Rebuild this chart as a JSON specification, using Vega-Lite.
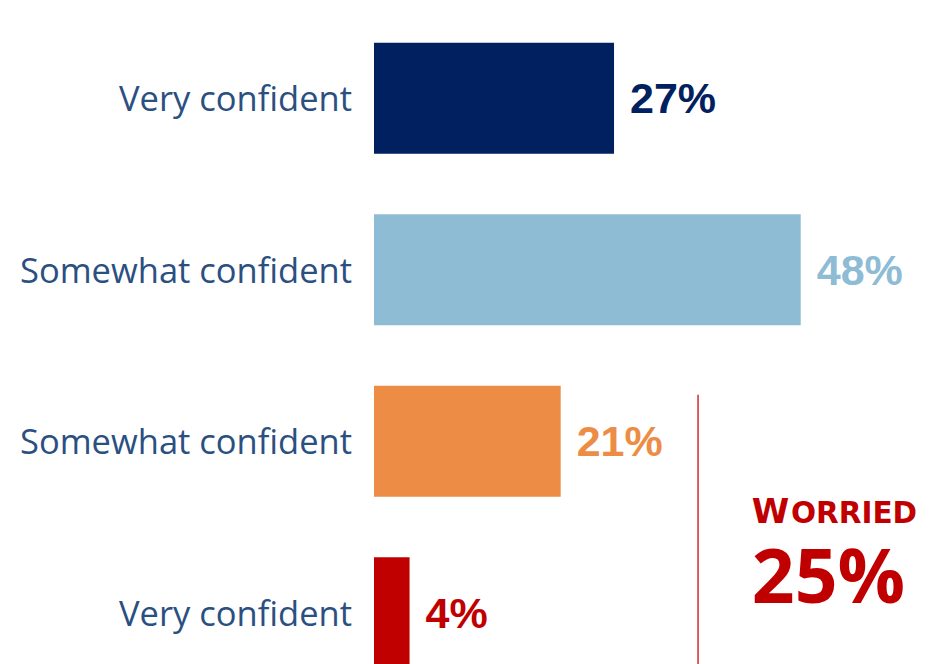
{
  "$schema": "https://vega.github.io/schema/vega-lite/v6.json",
  "width": 563,
  "height": 711,
  "autosize": {"type": "none"},
  "padding": {"left": 374, "top": 0, "right": 0, "bottom": 0},
  "background": "white",
  "config": {"view": {"stroke": null}},
  "data": {
    "values": [
      {"key": "1", "label": "Very confident", "pct": 27, "text": "27%"},
      {"key": "2", "label": "Somewhat confident", "pct": 48, "text": "48%"},
      {"key": "3", "label": "Somewhat confident", "pct": 21, "text": "21%"},
      {"key": "4", "label": "Very confident", "pct": 4, "text": "4%"}
    ]
  },
  "encoding": {
    "y": {
      "field": "key",
      "type": "nominal",
      "sort": null,
      "axis": null,
      "scale": {"domain": ["1", "2", "3", "4"], "paddingInner": 0.353, "paddingOuter": 0.25}
    }
  },
  "layer": [
    {
      "mark": {"type": "bar"},
      "encoding": {
        "x": {"field": "pct", "type": "quantitative", "scale": {"domain": [0, 63.33], "nice": false, "zero": true}, "axis": null},
        "color": {
          "field": "key",
          "type": "nominal",
          "scale": {"domain": ["1", "2", "3", "4"], "range": ["#002060", "#8DBCD4", "#ED8D45", "#C00000"]},
          "legend": null
        }
      }
    },
    {
      "mark": {"type": "text", "align": "left", "baseline": "middle", "dx": 16, "dy": 2, "font": "Liberation Sans", "fontWeight": "bold", "fontSize": 43},
      "encoding": {
        "x": {"field": "pct", "type": "quantitative"},
        "text": {"field": "text"},
        "color": {"field": "key", "type": "nominal", "legend": null}
      }
    },
    {
      "mark": {"type": "text", "align": "right", "baseline": "middle", "dx": -22, "dy": 3, "font": "Open Sans", "fontSize": 34.5, "color": "#2B4F81"},
      "encoding": {
        "x": {"datum": 0},
        "text": {"field": "label"}
      }
    },
    {
      "data": {"values": [{"note": "rule"}]},
      "mark": {"type": "rule", "color": "#D42A2A", "strokeWidth": 1.5},
      "encoding": {
        "x": {"datum": 36.45},
        "y": {"datum": "3", "bandPosition": 0.08},
        "y2": {"datum": "4", "bandPosition": 1}
      }
    },
    {
      "data": {"values": [{"note": "W"}]},
      "mark": {"type": "text", "align": "left", "baseline": "alphabetic", "dy": -34, "font": "DejaVu Sans", "fontWeight": "bold", "fontSize": 34, "color": "#C00000"},
      "encoding": {
        "x": {"datum": 42.5},
        "y": {"datum": "4", "bandPosition": 0},
        "text": {"value": "W"}
      }
    },
    {
      "data": {"values": [{"note": "ORRIED"}]},
      "mark": {"type": "text", "align": "left", "baseline": "alphabetic", "dy": -34, "font": "DejaVu Sans", "fontWeight": "bold", "fontSize": 29.5, "color": "#C00000"},
      "encoding": {
        "x": {"datum": 46.9},
        "y": {"datum": "4", "bandPosition": 0},
        "text": {"value": "ORRIED"}
      }
    },
    {
      "data": {"values": [{"note": "25%"}]},
      "mark": {"type": "text", "align": "left", "baseline": "alphabetic", "dy": 46, "font": "Open Sans", "fontWeight": "bold", "fontSize": 75, "color": "#C00000"},
      "encoding": {
        "x": {"datum": 42.5},
        "y": {"datum": "4", "bandPosition": 0},
        "text": {"value": "25%"}
      }
    }
  ]
}
